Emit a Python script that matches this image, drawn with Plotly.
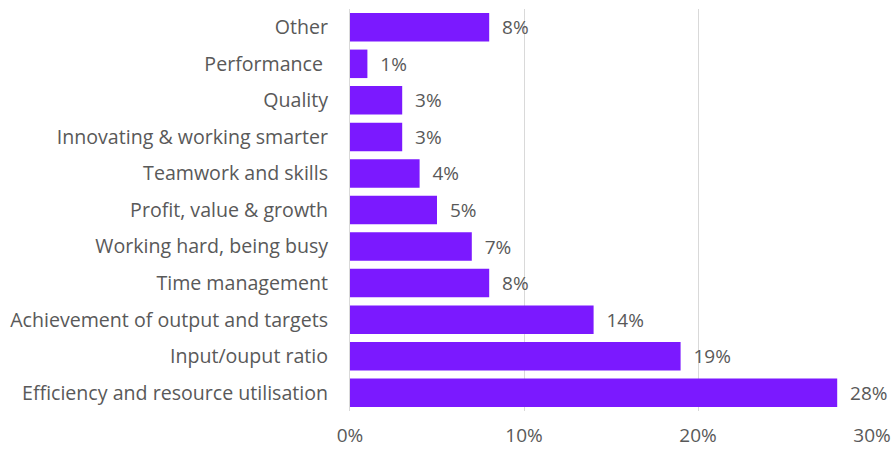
import plotly.graph_objects as go

categories = [
    "Other",
    "Performance ",
    "Quality",
    "Innovating & working smarter",
    "Teamwork and skills",
    "Profit, value & growth",
    "Working hard, being busy",
    "Time management",
    "Achievement of output and targets",
    "Input/ouput ratio",
    "Efficiency and resource utilisation",
]
values = [0.08, 0.01, 0.03, 0.03, 0.04, 0.05, 0.07, 0.08, 0.14, 0.19, 0.28]
x_ticks = [0, 0.1, 0.2, 0.3]
x_tick_labels = ["0%", "10%", "20%", "30%"]

bar_color = "#7B19FF"
text_color = "#595959"
font_family = "'Open Sans', sans-serif"
font_size = 19

fig = go.Figure(
    go.Bar(
        x=values,
        y=categories,
        orientation="h",
        marker=dict(color=bar_color, line=dict(width=0)),
        text=["  " + f"{v:.0%}" for v in values],
        textposition="outside",
        textfont=dict(color=text_color, size=font_size, family=font_family),
        cliponaxis=False,
        hoverinfo="skip",
    )
)

fig.update_layout(
    width=895,
    height=451,
    margin=dict(l=350, r=23, t=9, b=40),
    paper_bgcolor="white",
    plot_bgcolor="white",
    bargap=0.22,
    showlegend=False,
    font=dict(family=font_family, size=font_size, color=text_color),
    uniformtext=dict(minsize=font_size, mode="show"),
)

fig.update_xaxes(
    range=[0, 0.3],
    tickvals=x_ticks,
    ticktext=x_tick_labels,
    showgrid=True,
    gridcolor="#D9D9D9",
    gridwidth=1,
    zeroline=False,
    showline=False,
    ticks="",
    tickfont=dict(size=font_size, color=text_color),
    ticklabelstandoff=11,
    automargin=False,
)

fig.update_yaxes(
    categoryorder="array",
    categoryarray=categories[::-1],
    showgrid=False,
    showline=True,
    linecolor="#D9D9D9",
    linewidth=1,
    ticks="",
    ticklabelstandoff=17,
    tickfont=dict(size=19.6, color=text_color),
    automargin=False,
)

fig.write_html("out.html")
